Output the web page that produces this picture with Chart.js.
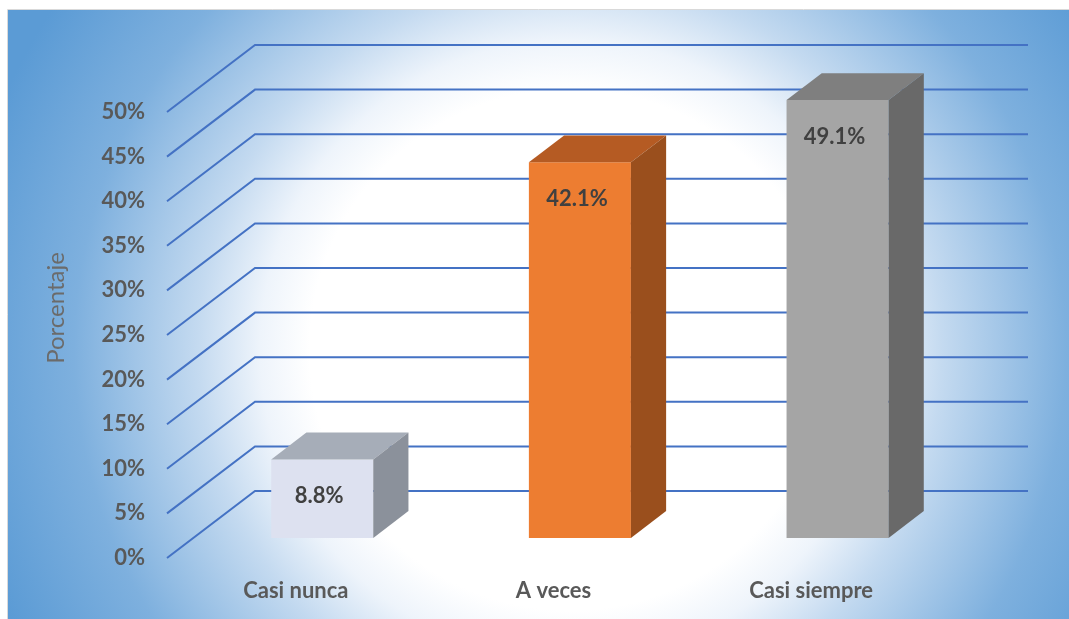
<!DOCTYPE html>
<html>
<head>
<meta charset="utf-8">
<title>Porcentaje</title>
<script src="https://cdn.jsdelivr.net/npm/chart.js"></script>
<style>
  html, body { margin: 0; padding: 0; background: #ffffff; }
  #wrap { width: 1069px; height: 619px; }
</style>
</head>
<body>
<div id="wrap"><canvas id="chart" width="1069" height="619"></canvas></div>
<script>
const categories = ['Casi nunca', 'A veces', 'Casi siempre'];
const percentages = [8.8, 42.1, 49.1];
const yTicks = [0, 5, 10, 15, 20, 25, 30, 35, 40, 45, 50];

// face colours for each box: front, top, right side
const frontColors = ['#dde1f0', '#ed7d31', '#a5a5a5'];
const topColors = ['#a6adb8', '#b55b23', '#7f7f7f'];
const sideColors = ['#8b919b', '#9a4f1d', '#696969'];

// depth of the floor in screen pixels and where the boxes sit inside it
const DEPTH_X = 88;
const DEPTH_Y = 67;
const BOX_FRONT = 0.3;
const BOX_BACK = 0.7;
const GRID_COLOR = '#4472c4';
const TEXT_COLOR = '#595959';

const backdrop = {
  id: 'backdrop',
  beforeDraw(chart) {
    const ctx = chart.ctx;
    const x0 = 8, y0 = 10, w = chart.width - x0, h = chart.height - y0;
    ctx.save();
    ctx.fillStyle = '#ffffff';
    ctx.fillRect(0, 0, chart.width, chart.height);
    const cx = 570, cy = 350, r = 620;
    const g = ctx.createRadialGradient(cx, cy, 0, cx, cy, r);
    g.addColorStop(0, '#ffffff');
    g.addColorStop(0.42, '#ffffff');
    g.addColorStop(0.5, '#eef4fb');
    g.addColorStop(0.6, '#c4daf0');
    g.addColorStop(0.8, '#7eb0de');
    g.addColorStop(1, '#5b9bd5');
    ctx.fillStyle = g;
    ctx.fillRect(x0, y0, w, h);
    ctx.strokeStyle = '#d9d9d9';
    ctx.lineWidth = 1;
    ctx.beginPath();
    ctx.moveTo(x0 - 0.5, chart.height);
    ctx.lineTo(x0 - 0.5, y0 - 0.5);
    ctx.lineTo(chart.width, y0 - 0.5);
    ctx.stroke();
    ctx.restore();
  }
};

const box3d = {
  id: 'box3d',
  beforeDatasetsDraw(chart) {
    const ctx = chart.ctx;
    const area = chart.chartArea;
    const yScale = chart.scales.y;
    // wall grid: short diagonal on the left wall, then along the back wall
    ctx.save();
    ctx.strokeStyle = GRID_COLOR;
    ctx.lineWidth = 2;
    yTicks.forEach(function(t) {
      const y = yScale.getPixelForValue(t);
      ctx.beginPath();
      ctx.moveTo(area.left, y);
      ctx.lineTo(area.left + DEPTH_X, y - DEPTH_Y);
      ctx.lineTo(area.right + DEPTH_X, y - DEPTH_Y);
      ctx.stroke();
    });
    ctx.restore();
    // front faces are drawn by chart.js, shifted into the floor
    ctx.save();
    ctx.translate(DEPTH_X * BOX_FRONT, -DEPTH_Y * BOX_FRONT);
  },
  afterDatasetsDraw(chart) {
    const ctx = chart.ctx;
    ctx.restore();
    const meta = chart.getDatasetMeta(0);
    const fx = DEPTH_X * BOX_FRONT, fy = DEPTH_Y * BOX_FRONT;
    const dx = DEPTH_X * (BOX_BACK - BOX_FRONT), dy = DEPTH_Y * (BOX_BACK - BOX_FRONT);
    meta.data.forEach(function(bar, i) {
      const p = bar.getProps(['x', 'y', 'base', 'width'], true);
      const left = p.x - p.width / 2 + fx;
      const right = p.x + p.width / 2 + fx;
      const top = p.y - fy;
      const bottom = p.base - fy;
      ctx.save();
      ctx.fillStyle = topColors[i];
      ctx.beginPath();
      ctx.moveTo(left, top);
      ctx.lineTo(right, top);
      ctx.lineTo(right + dx, top - dy);
      ctx.lineTo(left + dx, top - dy);
      ctx.closePath();
      ctx.fill();
      ctx.fillStyle = sideColors[i];
      ctx.beginPath();
      ctx.moveTo(right, top);
      ctx.lineTo(right + dx, top - dy);
      ctx.lineTo(right + dx, bottom - dy);
      ctx.lineTo(right, bottom);
      ctx.closePath();
      ctx.fill();
      // value label inside the top of the front face
      ctx.fillStyle = '#404040';
      ctx.font = 'bold 22px Lato';
      ctx.textAlign = 'center';
      ctx.textBaseline = 'middle';
      ctx.fillText(percentages[i].toFixed(1) + '%', (left + right) / 2 - 3, top + 37);
      ctx.restore();
    });
  },
  afterDraw(chart) {
    const ctx = chart.ctx;
    ctx.save();
    ctx.translate(56, 308);
    ctx.rotate(-Math.PI / 2);
    ctx.fillStyle = '#6b6b6b';
    ctx.font = '24px Lato';
    ctx.textAlign = 'center';
    ctx.textBaseline = 'middle';
    ctx.fillText('Porcentaje', 0, 0);
    ctx.restore();
  }
};

new Chart(document.getElementById('chart').getContext('2d'), {
  type: 'bar',
  data: {
    labels: categories,
    datasets: [{
      data: percentages,
      backgroundColor: frontColors,
      borderWidth: 0,
      categoryPercentage: 1,
      barPercentage: 0.396
    }]
  },
  options: {
    responsive: false,
    animation: false,
    devicePixelRatio: 1,
    layout: { padding: { left: 0, top: 112, right: 129, bottom: 0 } },
    plugins: {
      legend: { display: false },
      tooltip: { enabled: false }
    },
    scales: {
      x: {
        grid: { display: false },
        border: { display: false },
        afterFit: function(s) { s.height = 61; },
        ticks: {
          padding: 12,
          color: TEXT_COLOR,
          font: { family: 'Lato', size: 22, weight: 'bold' }
        }
      },
      y: {
        min: 0,
        max: 50,
        grid: { display: false },
        border: { display: false },
        afterFit: function(s) { s.width = 167; },
        afterBuildTicks: function(s) { s.ticks = yTicks.map(function(v) { return { value: v }; }); },
        ticks: {
          padding: 14,
          color: TEXT_COLOR,
          font: { family: 'Lato', size: 22, weight: 'bold' },
          callback: function(v) { return v + '%'; }
        }
      }
    }
  },
  plugins: [backdrop, box3d]
});
</script>
</body>
</html>
